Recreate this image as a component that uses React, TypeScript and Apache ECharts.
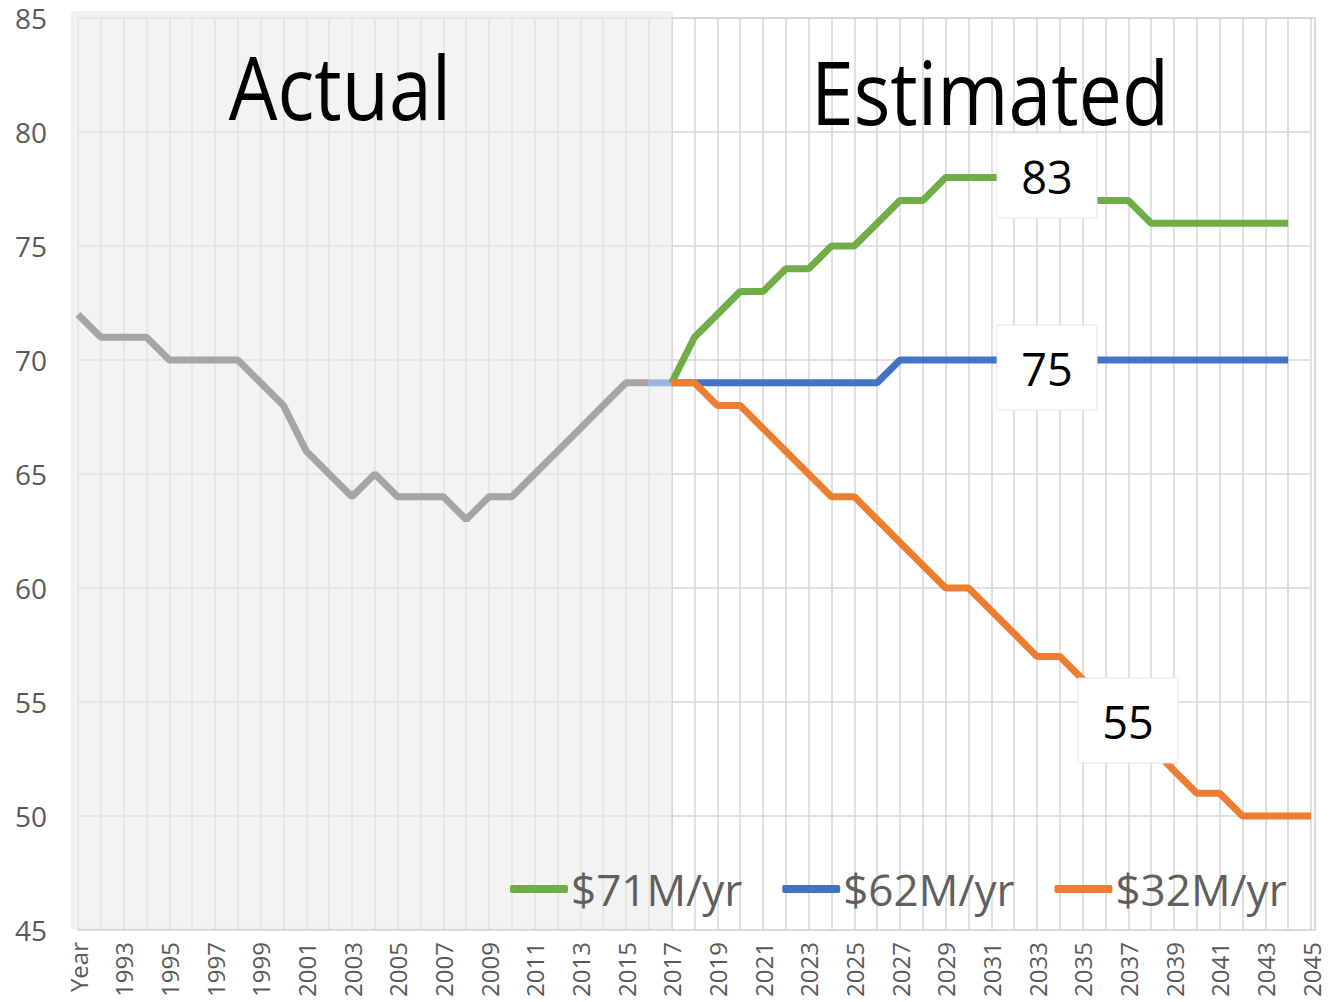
import React, { useEffect, useRef } from "react";
import * as echarts from "echarts";

const categories = [
  "Year", "1992", "1993", "1994", "1995", "1996", "1997", "1998", "1999", "2000",
  "2001", "2002", "2003", "2004", "2005", "2006", "2007", "2008", "2009", "2010",
  "2011", "2012", "2013", "2014", "2015", "2016", "2017", "2018", "2019", "2020",
  "2021", "2022", "2023", "2024", "2025", "2026", "2027", "2028", "2029", "2030",
  "2031", "2032", "2033", "2034", "2035", "2036", "2037", "2038", "2039", "2040",
  "2041", "2042", "2043", "2044", "2045",
];

// Year .. 2016
const actualValues = [72, 71, 71, 71, 70, 70, 70, 70, 69, 68, 66, 65, 64, 65, 64, 64, 64, 63, 64, 64, 65, 66, 67, 68, 69, 69];
// 2016 .. 2017 (faded blue link)
const fadedLink = [69, 69];
// 2017 .. 2044
const green71 = [69, 71, 72, 73, 73, 74, 74, 75, 75, 76, 77, 77, 78, 78, 78, 78, 78, 77, 77, 77, 77, 76, 76, 76, 76, 76, 76, 76];
// 2017 .. 2044
const blue62 = [69, 69, 69, 69, 69, 69, 69, 69, 69, 69, 70, 70, 70, 70, 70, 70, 70, 70, 70, 70, 70, 70, 70, 70, 70, 70, 70, 70];
// 2017 .. 2045
const orange32 = [69, 69, 68, 68, 67, 66, 65, 64, 64, 63, 62, 61, 60, 60, 59, 58, 57, 57, 56, 55, 54, 53, 52, 51, 51, 50, 50, 50, 50];

const seriesNames = ["$71M/yr", "$62M/yr", "$32M/yr"];
const boxLabels = ["83", "75", "55"];
const panelTitles = ["Actual", "Estimated"];

function pad(startIdx: number, values: number[]) {
  const out: (number | string)[] = [];
  for (let i = 0; i < categories.length; i++) {
    const j = i - startIdx;
    out.push(j >= 0 && j < values.length ? values[j] : "-");
  }
  return out;
}

export default function App() {
  const ref = useRef<HTMLDivElement>(null);
  useEffect(() => {
    if (!ref.current) return;
    const chart = echarts.init(ref.current, undefined, { renderer: "svg" });
    const idx2017 = categories.indexOf("2017");
    const idx2016 = categories.indexOf("2016");
    const font = "'Open Sans', 'Noto Sans', sans-serif";
    const box = (x: number, y: number, label: string) => ({
      type: "group",
      x,
      y,
      z: 100,
      children: [
        {
          type: "rect",
          shape: { x: 0, y: 0, width: 100, height: 85 },
          style: { fill: "#ffffff", stroke: "#e4e4e4", lineWidth: 1 },
          z: 100,
        },
        {
          type: "text",
          x: 50,
          y: 43,
          z: 101,
          style: {
            text: label,
            fill: "#000000",
            font: `45px ${font}`,
            align: "center",
            verticalAlign: "middle",
          },
        },
      ],
    });
    const line = (name: string, start: number, values: number[], color: string) => ({
      name,
      type: "line",
      data: pad(start, values),
      showSymbol: false,
      symbol: "none",
      lineStyle: { color, width: 7 },
      itemStyle: { color },
    });
    chart.setOption({
      animation: false,
      backgroundColor: "#ffffff",
      grid: { left: 78, right: 32, top: 18, bottom: 72 },
      legend: {
        data: seriesNames,
        left: 505,
        top: 862,
        icon: "roundRect",
        itemWidth: 58,
        itemHeight: 8,
        itemGap: 40,
        textStyle: { fontSize: 44, color: "#5f5f5f", fontFamily: font, padding: [0, 0, 0, -2] },
      },
      xAxis: {
        type: "category",
        data: categories,
        boundaryGap: false,
        axisTick: { show: false },
        axisLine: { lineStyle: { color: "#d9d9d9", width: 1.5 } },
        axisLabel: {
          interval: 1,
          rotate: 90,
          fontSize: 24,
          color: "#595959",
          margin: 12,
          fontFamily: font,
        },
        splitLine: { show: true, interval: 0, lineStyle: { color: "#d6d6d6", width: 1.5 } },
      },
      yAxis: {
        type: "value",
        min: 45,
        max: 85,
        interval: 5,
        axisLine: { show: false },
        axisTick: { show: false },
        axisLabel: { fontSize: 28, color: "#595959", margin: 31, fontFamily: font },
        splitLine: { lineStyle: { color: "#d6d6d6", width: 1.5 } },
      },
      graphic: [
        {
          type: "rect",
          z: -10,
          shape: { x: 72, y: 12, width: 600, height: 916 },
          style: { fill: "#f2f2f2", stroke: "#e2e2e2", lineWidth: 1 },
        },
        {
          type: "rect",
          z: 1,
          silent: true,
          shape: { x: 72, y: 12, width: 600, height: 916 },
          style: { fill: "rgba(244,244,244,0.45)" },
        },
        {
          type: "rect",
          z: -10,
          shape: { x: 672, y: 18, width: 643, height: 912 },
          style: { fill: "#ffffff", stroke: "#d0d0d0", lineWidth: 1.5 },
        },
        {
          type: "text",
          x: 340,
          y: 85,
          scaleY: 1.15,
          z: 50,
          style: {
            text: panelTitles[0],
            fill: "#000000",
            font: `77px ${font}`,
            align: "center",
            verticalAlign: "middle",
          },
        },
        {
          type: "text",
          x: 990,
          y: 90,
          scaleY: 1.15,
          z: 50,
          style: {
            text: panelTitles[1],
            fill: "#000000",
            font: `77px ${font}`,
            align: "center",
            verticalAlign: "middle",
          },
        },
        box(997, 133, boxLabels[0]),
        box(997, 325, boxLabels[1]),
        box(1078, 678, boxLabels[2]),
      ],
      series: [
        line("Actual", 0, actualValues, "#a5a5a5"),
        line("link", idx2016, fadedLink, "#9cb4e0"),
        line(seriesNames[1], idx2017, blue62, "#4472c4"),
        line(seriesNames[0], idx2017, green71, "#70ad47"),
        line(seriesNames[2], idx2017, orange32, "#ed7d31"),
      ],
    });
    return () => chart.dispose();
  }, []);
  return (
    <div
      ref={ref}
      style={{ position: "absolute", left: 0, top: 0, width: 1343, height: 1002 }}
    />
  );
}
